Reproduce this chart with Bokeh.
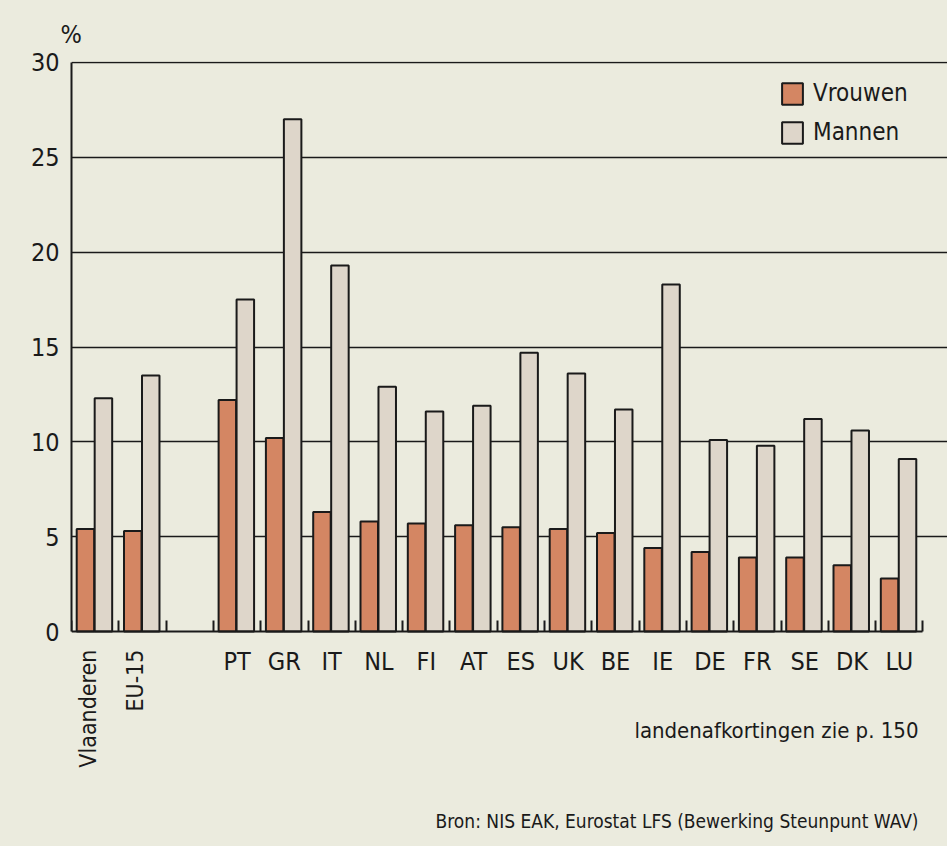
from bokeh.plotting import figure
from bokeh.models import Range1d, FixedTicker, Label, Legend, LegendItem
from bokeh.core.properties import value
from bokeh.embed import file_html
from bokeh.resources import INLINE

# ---- data ----
regions = ["Vlaanderen", "EU-15", "PT", "GR", "IT", "NL", "FI", "AT", "ES",
           "UK", "BE", "IE", "DE", "FR", "SE", "DK", "LU"]
vrouwen = [5.4, 5.3, 12.2, 10.2, 6.3, 5.8, 5.7, 5.6, 5.5, 5.4, 5.2, 4.4, 4.2, 3.9, 3.9, 3.5, 2.8]
mannen = [12.3, 13.5, 17.5, 27.0, 19.3, 12.9, 11.6, 11.9, 14.7, 13.6, 11.7, 18.3, 10.1, 9.8, 11.2, 10.6, 9.1]
y_ticks = [0, 5, 10, 15, 20, 25, 30]
series_names = ["Vrouwen", "Mannen"]
unit_label = "%"
note_text = "landenafkortingen zie p. 150"
source_text = "Bron: NIS EAK, Eurostat LFS (Bewerking Steunpunt WAV)"

# ---- styling ----
FONT = "DejaVu Sans Condensed, Roboto, sans-serif"
BG = "#EBEBDE"
ORANGE = "#D48663"
GREY = "#DED6CA"
INK = "#1a1a1a"

# slot positions: two reference regions, an empty slot, then the countries
xpos = [0, 1] + list(range(3, 3 + len(regions) - 2))
n_slots = xpos[-1] + 1

p = figure(width=947, height=846, title=unit_label,
           x_range=Range1d(-0.5, 18.02), y_range=Range1d(-11.33, 30.05),
           output_backend="svg", toolbar_location=None,
           min_border_left=71, min_border_right=0,
           min_border_top=61, min_border_bottom=0)
p.background_fill_color = BG
p.border_fill_color = BG
p.outline_line_color = None

# "%" unit title
p.title.align = "left"
p.title.offset = -11
p.title.standoff = 25
p.title.text_font = FONT
p.title.text_font_style = "normal"
p.title.text_font_size = "25px"
p.title.text_color = INK

r1 = p.vbar(x=[x - 0.205 for x in xpos], top=vrouwen, bottom=0, width=0.37,
            fill_color=ORANGE, line_color=INK, line_width=2)
r2 = p.vbar(x=[x + 0.175 for x in xpos], top=mannen, bottom=0, width=0.37,
            fill_color=GREY, line_color=INK, line_width=2)

# y axis
p.yaxis.ticker = FixedTicker(ticks=y_ticks)
p.yaxis.bounds = (y_ticks[0], y_ticks[-1])
p.yaxis.major_tick_in = 0
p.yaxis.major_tick_out = 0
p.yaxis.minor_tick_line_color = None
p.yaxis.axis_line_width = 2
p.yaxis.axis_line_color = INK
p.yaxis.major_label_standoff = 12
p.yaxis.major_label_text_font = FONT
p.yaxis.major_label_text_font_size = "25px"
p.yaxis.major_label_text_color = INK

# grid
p.xgrid.grid_line_color = None
p.ygrid.ticker = FixedTicker(ticks=y_ticks[1:])
p.ygrid.grid_line_color = INK
p.ygrid.grid_line_width = 1.6

# x axis drawn at y = 0 inside the frame
country_pos = xpos[2:]
p.xaxis.fixed_location = 0
p.xaxis.ticker = FixedTicker(ticks=country_pos,
                             minor_ticks=[i - 0.5 for i in range(n_slots + 1)])
p.xaxis.major_label_overrides = {x: name for x, name in zip(country_pos, regions[2:])}
p.xaxis.bounds = (-0.5, n_slots - 0.5)
p.xaxis.major_tick_line_color = None
p.xaxis.major_tick_in = 0
p.xaxis.major_tick_out = 0
p.xaxis.minor_tick_in = 11
p.xaxis.minor_tick_out = 0
p.xaxis.minor_tick_line_width = 2
p.xaxis.minor_tick_line_color = INK
p.xaxis.axis_line_width = 2
p.xaxis.axis_line_color = INK
p.xaxis.major_label_standoff = 15
p.xaxis.major_label_text_font = FONT
p.xaxis.major_label_text_font_size = "25px"
p.xaxis.major_label_text_color = INK

# rotated labels for the two reference regions
p.text(x=[x - 0.15 for x in xpos[:2]], y=[0, 0], text=regions[:2],
       angle=1.5708, y_offset=18, text_align="right", text_baseline="middle",
       text_font=value(FONT), text_font_size="23px", text_color=INK)

# notes
p.add_layout(Label(x=847, y=116, x_units="screen", y_units="screen", text=note_text,
                   text_align="right", text_baseline="middle",
                   text_font=FONT, text_font_size="22px", text_color=INK))
p.add_layout(Label(x=847, y=26, x_units="screen", y_units="screen", text=source_text,
                   text_align="right", text_baseline="middle",
                   text_font=FONT, text_font_size="19px", text_color=INK))

legend = Legend(items=[LegendItem(label=series_names[0], renderers=[r1]),
                       LegendItem(label=series_names[1], renderers=[r2])],
                location=(708, 700))
legend.background_fill_alpha = 0
legend.border_line_color = None
legend.padding = 0
legend.margin = 0
legend.spacing = 11
legend.glyph_width = 26
legend.glyph_height = 27
legend.label_height = 27
legend.label_standoff = 8
legend.label_text_font = FONT
legend.label_text_font_size = "24px"
legend.label_text_color = INK
p.add_layout(legend)

html = file_html(p, INLINE)
html = html.replace("<head>", "<head><style>html, body { background: %s; margin: 0; }</style>" % BG, 1)
open("out.html", "w").write(html)
